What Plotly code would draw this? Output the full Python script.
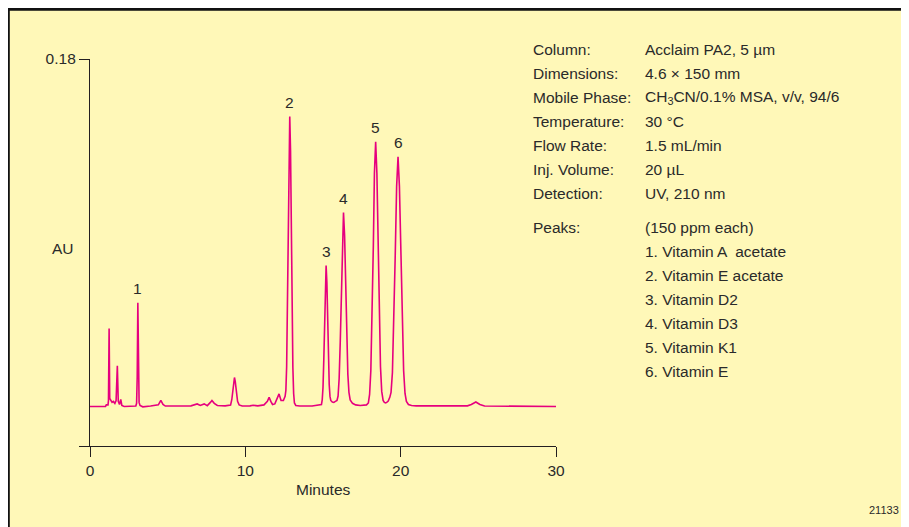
import plotly.graph_objects as go

# ---------------- data ----------------
time_min = [
    0.0, 1.0, 1.05, 1.16, 1.19, 1.23, 1.27, 1.33, 1.42, 1.5, 1.6, 1.68, 1.76, 1.82, 1.9, 1.98, 2.05, 2.2,
    2.95, 3.0, 3.04, 3.08, 3.12, 3.16, 3.22, 3.4, 3.9, 4.4, 4.56, 4.7, 4.85,
    5.5, 6.0, 6.5, 6.9, 7.1, 7.35, 7.55, 7.75, 7.85, 8.0, 8.2, 8.7,
    9.05, 9.13, 9.2, 9.25, 9.3, 9.35, 9.42, 9.5, 9.6, 9.8, 10.3, 10.5, 10.8,
    11.2, 11.42, 11.53, 11.64, 11.75, 11.9, 12.05, 12.17, 12.3, 12.45,
    12.56, 12.61, 12.66, 12.71, 12.76, 12.81, 12.86, 12.91, 12.96, 13.01, 13.06, 13.11, 13.16, 13.25, 13.5,
    14.3, 14.9, 14.95, 15.0, 15.05, 15.1, 15.15, 15.2, 15.25, 15.3, 15.35, 15.4, 15.45, 15.5, 15.6, 15.7,
    15.8, 15.9, 15.97, 16.04, 16.11, 16.18, 16.25, 16.32, 16.39, 16.46, 16.53, 16.6, 16.67, 16.75, 16.9, 17.1, 17.4,
    17.8, 17.92, 18.0, 18.08, 18.16, 18.24, 18.31, 18.39, 18.47, 18.54, 18.62, 18.7, 18.78, 18.87, 18.95, 19.03,
    19.1, 19.2, 19.3, 19.38, 19.47, 19.56, 19.65, 19.74, 19.83, 19.92, 20.01, 20.1, 20.19, 20.28, 20.37, 20.5, 20.7, 21.0,
    22.0, 23.5, 24.3, 24.55, 24.84, 25.1, 25.4, 30.0,
]
signal_au = [
    0.0, 0.0, 0.0008, 0.0008, 0.0031, 0.0404, 0.0041, 0.0031, 0.0021, 0.0026, 0.0016, 0.0031, 0.0211, 0.0026, 0.0010, 0.0036, 0.0005, 0.0,
    0.0002, 0.0016, 0.0155, 0.0537, 0.0155, 0.0021, 0.0005, -0.0002, 0.0002, 0.0008, 0.0031, 0.0010, 0.0002,
    0.0003, 0.0005, 0.0003, 0.0013, 0.0005, 0.0013, 0.0004, 0.0021, 0.0031, 0.0016, 0.0005, 0.0003,
    0.0007, 0.0036, 0.0091, 0.0127, 0.0150, 0.0130, 0.0073, 0.0026, 0.0008, 0.0002, 0.0003, 0.0006, 0.0003,
    0.0008, 0.0026, 0.0047, 0.0026, 0.0010, 0.0013, 0.0041, 0.0065, 0.0031, 0.0031,
    0.0052, 0.0083, 0.0207, 0.0492, 0.0912, 0.1326, 0.1502, 0.1326, 0.0912, 0.0487, 0.0202, 0.0067, 0.0018, 0.0005, 0.0002,
    0.0002, 0.0010, 0.0034, 0.0098, 0.0238, 0.0443, 0.0642, 0.0730, 0.0642, 0.0443, 0.0238, 0.0114, 0.0052, 0.0031, 0.0023, 0.0021,
    0.0026, 0.0031, 0.0054, 0.0145, 0.0332, 0.0611, 0.0886, 0.1005, 0.0886, 0.0622, 0.0347, 0.0166, 0.0073, 0.0034, 0.0016, 0.0008, 0.0005,
    0.0008, 0.0018, 0.0062, 0.0186, 0.0445, 0.0829, 0.1207, 0.1371, 0.1207, 0.0829, 0.0456, 0.0207, 0.0078, 0.0031, 0.0021, 0.0018,
    0.0021, 0.0028, 0.0047, 0.0073, 0.0176, 0.0420, 0.0782, 0.1140, 0.1293, 0.1140, 0.0782, 0.0425, 0.0186, 0.0067, 0.0026, 0.0010, 0.0005, 0.0003,
    0.0002, 0.0001, 0.0003, 0.0010, 0.0023, 0.0010, 0.0002, 0.0,
]

peak_ids = ["1", "2", "3", "4", "5", "6"]
peak_rt = [3.08, 12.86, 15.2, 16.32, 18.39, 19.83]
peak_au = [0.0537, 0.1502, 0.0730, 0.1005, 0.1371, 0.1293]

x_tick_vals = [0, 10, 20, 30]
x_tick_text = ["0", "10", "20", "30"]
y_min = -0.0205
y_max = 0.18
y_tick_vals = [y_min, y_max]
y_tick_text = [" ", "0.18"]

cond_labels = ["Column:", "Dimensions:", "Mobile Phase:", "Temperature:", "Flow Rate:",
               "Inj. Volume:", "Detection:"]
cond_values = ["Acclaim PA2, 5 µm", "4.6 × 150 mm", "CH<sub>3</sub>CN/0.1% MSA, v/v, 94/6",
               "30 °C", "1.5 mL/min", "20 µL", "UV, 210 nm"]
peaks_label = "Peaks:"
peaks_header = "(150 ppm each)"
peak_names = ["1. Vitamin A \u00a0acetate", "2. Vitamin E acetate", "3. Vitamin D2",
              "4. Vitamin D3", "5. Vitamin K1", "6. Vitamin E"]

# ---------------- styling ----------------
OFF = 8  # page body margin
W, H = 909, 527
ML, MT = 90 - OFF, 59 - OFF
PLOT_R, PLOT_B = 556 - OFF, 446 - OFF
MR, MB = W - PLOT_R, H - PLOT_B
PW, PH = PLOT_R - ML, PLOT_B - MT
FONT = "Liberation Sans, Arial, Helvetica, sans-serif"
TXT = "#2a2a2a"
AXC = "#231f20"
BG = "#fff8b8"
PINK = "#e6007e"
FS = 15.5


def fx(p):
    return (p - OFF - ML) / PW


def fy(p):
    return (PLOT_B - (p - OFF)) / PH


fig = go.Figure()
fig.add_trace(go.Scatter(x=time_min, y=signal_au, mode="lines",
                         line=dict(color=PINK, width=1.6), hoverinfo="skip",
                         showlegend=False))

ann = []
for pid, rt, au in zip(peak_ids, peak_rt, peak_au):
    ann.append(dict(x=rt, y=au, xref="x", yref="y", text=pid, showarrow=False,
                    yanchor="middle", xanchor="center", yshift=14,
                    font=dict(size=FS, color=TXT, family=FONT)))

row_y = [49, 73, 97, 121, 145, 169, 193]
for lab, val, ry in zip(cond_labels, cond_values, row_y):
    ann.append(dict(x=fx(531), y=fy(ry), xref="paper", yref="paper", text=lab,
                    showarrow=False, xanchor="left", yanchor="middle",
                    font=dict(size=FS, color=TXT, family=FONT)))
    ann.append(dict(x=fx(643), y=fy(ry), xref="paper", yref="paper", text=val,
                    showarrow=False, xanchor="left", yanchor="middle",
                    font=dict(size=FS, color=TXT, family=FONT)))

ann.append(dict(x=fx(531), y=fy(228), xref="paper", yref="paper", text=peaks_label,
                showarrow=False, xanchor="left", yanchor="middle",
                font=dict(size=FS, color=TXT, family=FONT)))
ann.append(dict(x=fx(643), y=fy(228), xref="paper", yref="paper", text=peaks_header,
                showarrow=False, xanchor="left", yanchor="middle",
                font=dict(size=FS, color=TXT, family=FONT)))
for i, nm in enumerate(peak_names):
    ann.append(dict(x=fx(643), y=fy(251 + 24.1 * i), xref="paper", yref="paper", text=nm,
                    showarrow=False, xanchor="left", yanchor="middle",
                    font=dict(size=FS, color=TXT, family=FONT)))

ann.append(dict(x=fx(63), y=fy(248), xref="paper", yref="paper", text="AU",
                showarrow=False, xanchor="center", yanchor="middle",
                font=dict(size=FS, color=TXT, family=FONT)))
ann.append(dict(x=fx(323), y=fy(489), xref="paper", yref="paper", text="Minutes",
                showarrow=False, xanchor="center", yanchor="middle",
                font=dict(size=FS, color=TXT, family=FONT)))
ann.append(dict(x=fx(884), y=fy(509.5), xref="paper", yref="paper", text="21133",
                showarrow=False, xanchor="center", yanchor="middle",
                font=dict(size=11, color=TXT, family=FONT)))

shapes = [dict(type="rect", xref="paper", yref="paper", layer="below",
               x0=fx(8.3), x1=fx(940), y0=fy(560), y1=fy(9.3),
               fillcolor=BG, line=dict(color="#111111", width=3))]

fig.update_layout(
    width=W, height=H,
    margin=dict(l=ML, r=MR, t=MT, b=MB, pad=0),
    paper_bgcolor=BG, plot_bgcolor="rgba(0,0,0,0)",
    annotations=ann, shapes=shapes,
    showlegend=False,
    xaxis=dict(range=[0, 30], tickvals=x_tick_vals, ticktext=x_tick_text,
               showline=True, linecolor=AXC, linewidth=1.3,
               ticks="outside", ticklen=10, tickwidth=1.3, tickcolor=AXC,
               showgrid=False, zeroline=False,
               tickfont=dict(size=FS, color=TXT, family=FONT)),
    yaxis=dict(range=[y_min, y_max], tickvals=y_tick_vals, ticktext=y_tick_text,
               showline=True, linecolor=AXC, linewidth=1.3,
               ticks="outside", ticklen=10, tickwidth=1.3, tickcolor=AXC,
               showgrid=False, zeroline=False,
               tickfont=dict(size=FS, color=TXT, family=FONT)),
)

fig.write_html("out.html")
